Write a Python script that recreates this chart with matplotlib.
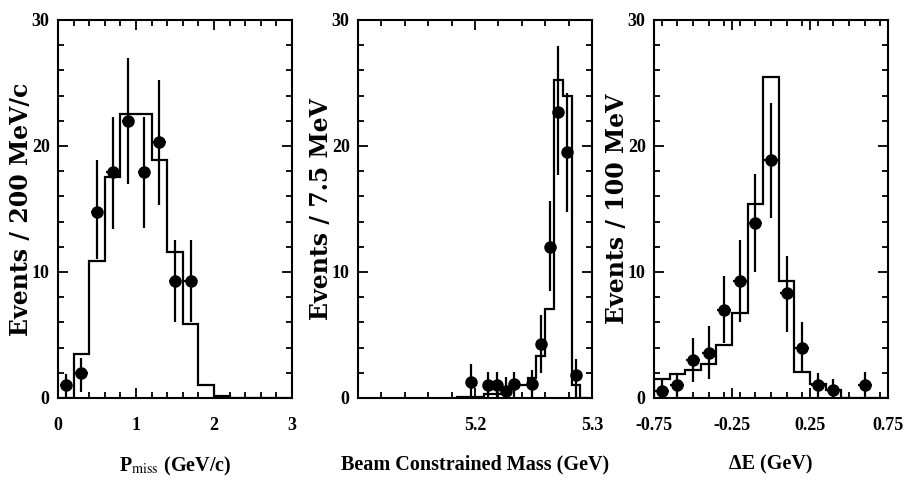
import numpy as np
import matplotlib
matplotlib.use("Agg")
import matplotlib.pyplot as plt
from matplotlib.ticker import MultipleLocator

plt.rcParams['mathtext.fontset'] = 'stix'

# Panel 1: missing momentum
p_edges = np.arange(0.0, 3.01, 0.2)
p_hist = [0, 3.5, 10.9, 17.5, 22.5, 22.5, 18.9, 11.6, 5.9, 1.0, 0.15, 0, 0, 0, 0]
p_x = [0.1, 0.3, 0.5, 0.7, 0.9, 1.1, 1.3, 1.5, 1.7]
p_y = [1.0, 2.0, 14.8, 17.9, 22.0, 17.9, 20.3, 9.3, 9.3]
p_lo = [1.0, 1.5, 3.8, 4.5, 5.0, 4.4, 5.0, 3.3, 3.3]
p_hi = [0.9, 1.2, 4.1, 4.4, 5.0, 4.4, 4.9, 3.2, 3.2]

# Panel 2: beam constrained mass
m_edges = 5.185 + 0.0075 * np.arange(16)
m_hist = [0.05, 0.05, 0.1, 0.3, 0.3, 0.3, 1.0, 1.0, 1.6, 3.3, 7.1, 25.2, 24.0, 1.0, 0]
m_x = [5.19625, 5.21125, 5.21875, 5.22625, 5.23375, 5.24875, 5.25625,
       5.26375, 5.27125, 5.27875, 5.28625]
m_y = [1.3, 1.05, 1.05, 0.55, 1.1, 1.1, 4.3, 12.0, 22.7, 19.5, 1.8]
m_lo = [1.3, 1.0, 1.0, 0.55, 1.0, 1.0, 2.3, 3.5, 5.0, 4.7, 1.7]
m_hi = [1.4, 1.0, 1.0, 1.1, 1.0, 1.1, 2.3, 3.6, 5.2, 4.7, 1.3]

# Panel 3: delta E
e_edges = np.linspace(-0.75, 0.75, 16)
e_hist = [1.5, 1.9, 2.2, 2.7, 4.2, 6.75, 15.4, 25.5, 9.3, 2.1, 1.15, 0.6, 0, 0, 0]
e_x = [-0.7, -0.6, -0.5, -0.4, -0.3, -0.2, -0.1, 0.0, 0.1, 0.2, 0.3, 0.4, 0.6]
e_y = [0.55, 1.0, 3.0, 3.6, 7.0, 9.3, 13.9, 18.9, 8.3, 4.0, 1.05, 0.65, 1.05]
e_lo = [0.55, 1.0, 1.7, 2.1, 2.6, 3.3, 3.9, 4.6, 3.1, 1.9, 1.05, 0.65, 0.9]
e_hi = [0.9, 0.9, 1.8, 2.1, 2.7, 3.2, 3.9, 4.5, 3.0, 2.0, 0.95, 0.85, 1.05]

panels = [
    dict(edges=p_edges, hist=p_hist, x=p_x, y=p_y, lo=p_lo, hi=p_hi, xerr=0.08,
         xlim=(0, 3), minor=0.2, ticks=[0, 1, 2, 3], labels=['0', '1', '2', '3'],
         ylabel='Events / 200 MeV/c', xlabel=r'P$_{\mathrm{miss}}$ (GeV/c)'),
    dict(edges=m_edges, hist=m_hist, x=m_x, y=m_y, lo=m_lo, hi=m_hi, xerr=0.0033,
         xlim=(5.1, 5.3), minor=0.02, ticks=[5.2, 5.3], labels=['5.2', '5.3'],
         ylabel='Events / 7.5 MeV', xlabel='Beam Constrained Mass (GeV)'),
    dict(edges=e_edges, hist=e_hist, x=e_x, y=e_y, lo=e_lo, hi=e_hi, xerr=0.045,
         xlim=(-0.75, 0.75), minor=0.1, ticks=[-0.75, -0.25, 0.25, 0.75],
         labels=['-0.75', '-0.25', '0.25', '0.75'],
         ylabel='Events / 100 MeV', xlabel='ΔE (GeV)'),
]

fig = plt.figure(figsize=(9.05, 4.83), dpi=100)
lefts = [58, 358, 654]
for left, p in zip(lefts, panels):
    ax = fig.add_axes([left / 905, 1 - 398 / 483, 234 / 905, 378 / 483])
    ax.stairs(p['hist'], p['edges'], color='black', lw=1.6, baseline=0)
    ax.errorbar(p['x'], p['y'], yerr=[p['lo'], p['hi']], xerr=p['xerr'],
                fmt='o', color='black', ms=8, elinewidth=1.6, capsize=0)
    ax.set_xlim(*p['xlim'])
    ax.set_ylim(0, 30)
    ax.xaxis.set_minor_locator(MultipleLocator(p['minor']))
    ax.set_xticks(p['ticks'])
    ax.set_xticklabels(p['labels'])
    ax.yaxis.set_major_locator(MultipleLocator(10))
    ax.yaxis.set_minor_locator(MultipleLocator(2))
    ax.tick_params(which='both', direction='in', top=True, right=True, width=1.3)
    ax.tick_params(which='major', length=7, pad=6)
    ax.tick_params(axis='x', which='major', pad=14)
    ax.tick_params(which='minor', length=4)
    for lab in ax.get_xticklabels() + ax.get_yticklabels():
        lab.set_fontfamily('Liberation Serif')
        lab.set_fontweight('bold')
        lab.set_fontsize(13)
    for s in ax.spines.values():
        s.set_linewidth(1.5)
    ax.set_ylabel(p['ylabel'], fontfamily='DejaVu Serif', fontweight='bold', fontsize=17)
    ax.yaxis.set_label_coords(-0.108, 0.5)
    ax.set_xlabel(p['xlabel'], fontfamily='Liberation Serif', fontweight='bold', fontsize=14.5)
    ax.xaxis.set_label_coords(0.5, -0.15)

fig.savefig('out.png', dpi=100)
